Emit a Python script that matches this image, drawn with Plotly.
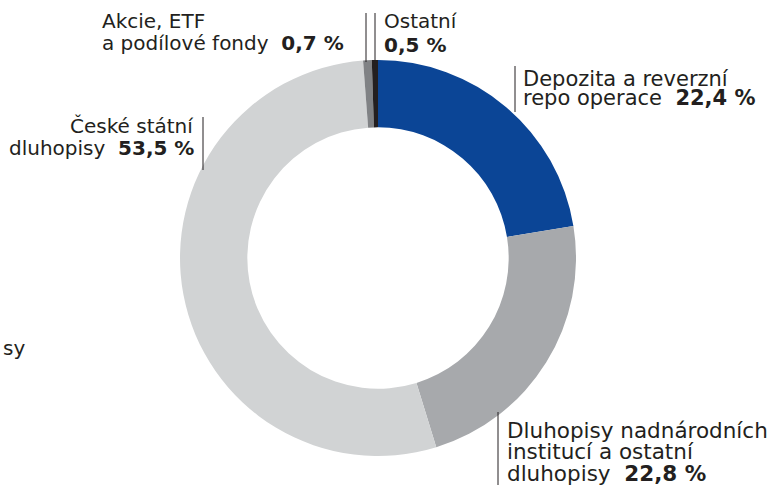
import plotly.graph_objects as go

W, H = 772, 485

# ---- data ----
categories = [
    "Depozita a reverzní repo operace",
    "Dluhopisy nadnárodních institucí a ostatní dluhopisy",
    "České státní dluhopisy",
    "Akcie, ETF a podílové fondy",
    "Ostatní",
]
values = [22.4, 22.8, 53.5, 0.7, 0.5]
value_labels = ["22,4 %", "22,8 %", "53,5 %", "0,7 %", "0,5 %"]
colors = ["#0b4596", "#a7a9ac", "#d1d3d4", "#808285", "#231f20"]

# label text lines (last line gets the bold value appended)
label_lines = [
    ["Depozita a reverzní", "repo operace"],
    ["Dluhopisy nadnárodních", "institucí a ostatní", "dluhopisy"],
    ["České státní", "dluhopisy"],
    ["Akcie, ETF", "a podílové fondy"],
    ["Ostatní", ""],
]

# ---- layout config (pixels) ----
label_pos = [  # x, first-line centre y, anchor
    (522, 79, "left"),
    (506, 430, "left"),
    (195, 126, "right"),
    (101, 21, "left"),
    (383, 21, "left"),
]
label_size = [21, 21.5, 20, 20, 20]
line_gap = [19, 21.5, 22, 22, 24]
leaders = [  # x, y0, y1
    (515, 66, 112),
    (498, 412, 485),
    (203, 117, 170),
    (366, 13, 62),
    (375, 13, 61),
]

FONT = "DejaVu Sans"
TXT = "#231f20"
cx, cy, r = 378, 258, 198

fig = go.Figure(
    go.Pie(
        labels=categories,
        values=values,
        marker=dict(colors=colors, line=dict(width=0)),
        sort=False,
        direction="clockwise",
        rotation=0,
        hole=0.66,
        textinfo="none",
        hoverinfo="label+value",
        showlegend=False,
        domain=dict(x=[(cx - r) / W, (cx + r) / W], y=[(H - cy - r) / H, (H - cy + r) / H]),
    )
)

def px(x):
    return x / W

def py(y):
    return 1 - y / H

annotations = []
shapes = []
for i, lines in enumerate(label_lines):
    x, y0, anchor = label_pos[i]
    for j, ln in enumerate(lines):
        text = ln
        if j == len(lines) - 1:
            sep = "\u00a0\u00a0" if ln else ""
            text = ln + sep + "<b>" + value_labels[i] + "</b>"
        annotations.append(dict(
            x=px(x), y=py(y0 + j * line_gap[i]), xref="paper", yref="paper",
            text=text, showarrow=False, xanchor=anchor, yanchor="middle",
            font=dict(family=FONT, size=label_size[i], color=TXT), borderpad=0,
        ))
    lx, ly0, ly1 = leaders[i]
    shapes.append(dict(type="line", xref="paper", yref="paper",
                       x0=px(lx), x1=px(lx), y0=py(ly0), y1=py(ly1),
                       line=dict(color=TXT, width=1)))

# cut-off fragment of a neighbouring label at the left edge
annotations.append(dict(x=px(2), y=py(348), xref="paper", yref="paper", text="sy",
                        showarrow=False, xanchor="left", yanchor="middle",
                        font=dict(family=FONT, size=20, color=TXT), borderpad=0))

fig.update_layout(
    width=W, height=H,
    margin=dict(l=0, r=0, t=0, b=0),
    paper_bgcolor="white", plot_bgcolor="white",
    annotations=annotations, shapes=shapes,
)

fig.write_html(
    "out.html",
    config={"displayModeBar": False},
    post_script="document.body.style.margin='0';document.body.style.overflow='hidden';",
)
